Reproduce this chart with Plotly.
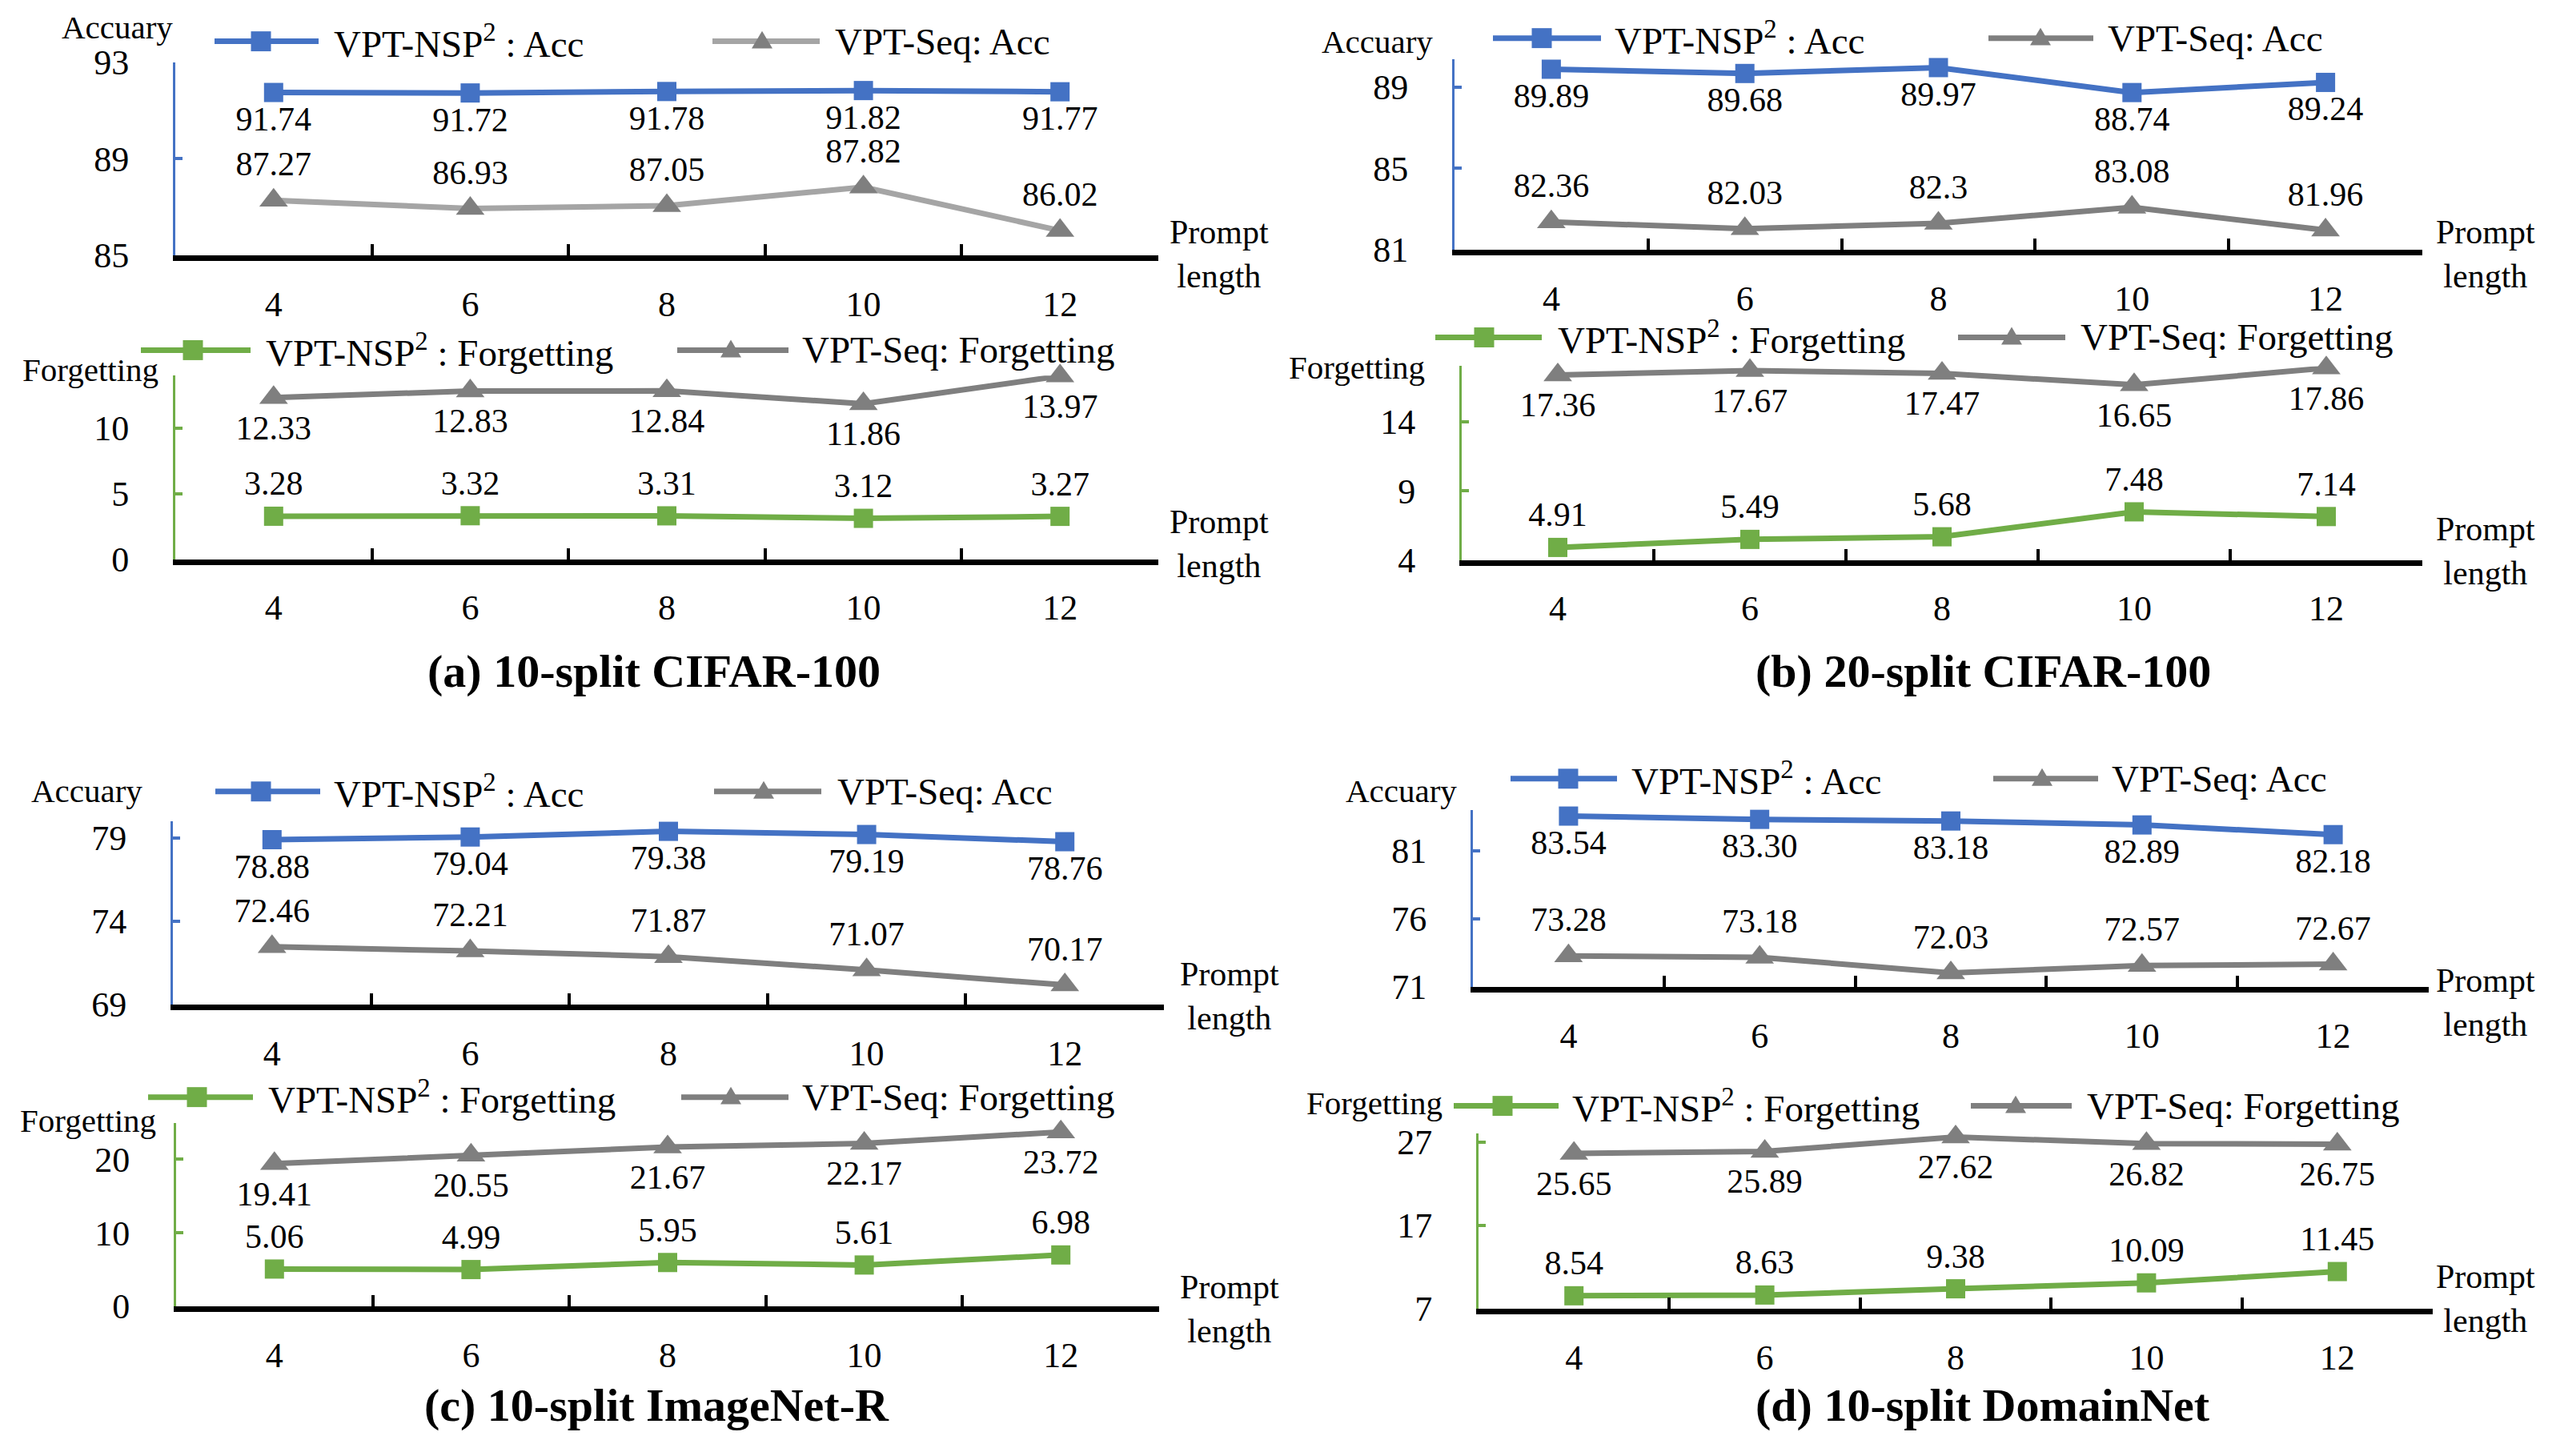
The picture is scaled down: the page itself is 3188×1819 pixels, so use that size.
import plotly.graph_objects as go

W, H = 3188, 1819
FONT = "Liberation Serif"
BLUE = "#4472C4"
GREEN = "#70AD47"
GRAY = "#7F7F7F"
LGRAY = "#A5A5A5"

# ---------------- data ----------------
prompt_lengths = ["4", "6", "8", "10", "12"]

a_acc_nsp = [91.74, 91.72, 91.78, 91.82, 91.77]
a_acc_seq = [87.27, 86.93, 87.05, 87.82, 86.02]
a_fgt_nsp = [3.28, 3.32, 3.31, 3.12, 3.27]
a_fgt_seq = [12.33, 12.83, 12.84, 11.86, 13.97]

b_acc_nsp = [89.89, 89.68, 89.97, 88.74, 89.24]
b_acc_seq = [82.36, 82.03, 82.3, 83.08, 81.96]
b_fgt_nsp = [4.91, 5.49, 5.68, 7.48, 7.14]
b_fgt_seq = [17.36, 17.67, 17.47, 16.65, 17.86]

c_acc_nsp = [78.88, 79.04, 79.38, 79.19, 78.76]
c_acc_seq = [72.46, 72.21, 71.87, 71.07, 70.17]
c_fgt_nsp = [5.06, 4.99, 5.95, 5.61, 6.98]
c_fgt_seq = [19.41, 20.55, 21.67, 22.17, 23.72]

d_acc_nsp = [83.54, 83.30, 83.18, 82.89, 82.18]
d_acc_seq = [73.28, 73.18, 72.03, 72.57, 72.67]
d_fgt_nsp = [8.54, 8.63, 9.38, 10.09, 11.45]
d_fgt_seq = [25.65, 25.89, 27.62, 26.82, 26.75]

acc_ticks = {"a": [85, 89, 93], "b": [81, 85, 89], "c": [69, 74, 79], "d": [71, 76, 81]}
fgt_ticks = {"a": [0, 5, 10], "b": [4, 9, 14], "c": [0, 10, 20], "d": [7, 17, 27]}
acc_ranges = {"a": [85, 93], "b": [81, 90.4], "c": [69, 80], "d": [71, 84]}
fgt_ranges = {"a": [0, 14], "b": [4, 18], "c": [0, 25], "d": [7, 28]}

captions = {"a": "(a) 10-split CIFAR-100", "b": "(b) 20-split CIFAR-100",
            "c": "(c) 10-split ImageNet-R", "d": "(d) 10-split DomainNet"}

# ---------------- layout geometry (target pixels) ----------------
subplots = [
    ("a", "acc", a_acc_nsp, a_acc_seq, 219, 1447, 79, 321, LGRAY, "{:.2f}"),
    ("a", "fgt", a_fgt_nsp, a_fgt_seq, 219, 1447, 472, 702, GRAY, "{:.2f}"),
    ("b", "acc", b_acc_nsp, b_acc_seq, 1817, 3026, 75, 314, GRAY, "{:g}"),
    ("b", "fgt", b_fgt_nsp, b_fgt_seq, 1826, 3026, 460, 703, GRAY, "{:.2f}"),
    ("c", "acc", c_acc_nsp, c_acc_seq, 216, 1454, 1030, 1260, GRAY, "{:.2f}"),
    ("c", "fgt", c_fgt_nsp, c_fgt_seq, 220, 1448, 1408, 1638, GRAY, "{:.2f}"),
    ("d", "acc", d_acc_nsp, d_acc_seq, 1840, 3034, 1016, 1238, GRAY, "{:.2f}"),
    ("d", "fgt", d_fgt_nsp, d_fgt_seq, 1847, 3039, 1422, 1641, GRAY, "{:.2f}"),
]

ytitle_pos = [(146, 35), (113, 465), (1720, 53), (1695, 462),
              (108, 992), (110, 1405), (1750, 992), (1717, 1383)]
plen_pos = [(1523, 320), (1523, 683), (3105, 320), (3105, 692),
            (1536, 1249), (1536, 1642), (3105, 1258), (3105, 1629)]
legend_geo = [
    (53, (268, 398, 326, 415), (890, 1024, 952, 1041)),
    (440, (176, 313, 241, 330), (846, 985, 913, 1000)),
    (49, (1865, 2000, 1926, 2015), (2484, 2615, 2549, 2631)),
    (424, (1793, 1926, 1854, 1944), (2446, 2580, 2513, 2597)),
    (993, (269, 400, 326, 415), (892, 1026, 954, 1044)),
    (1376, (185, 316, 246, 333), (851, 985, 913, 1000)),
    (977, (1887, 2020, 1959, 2036), (2490, 2621, 2551, 2636)),
    (1387, (1816, 1947, 1877, 1962), (2462, 2588, 2518, 2605)),
]
caption_pos = {"a": (817, 842), "b": (2477, 842), "c": (820, 1762), "d": (2477, 1762)}


def px(x):
    return x / W


def ty(y):
    # map a target picture row to the page row (the photographed page is
    # slightly squeezed vertically and offset)
    return (y - 25.3) / 0.976


def py(y):
    return 1 - ty(y) / H


fig = go.Figure()
layout = {}
annotations = []
shapes = []

for i, (pan, kind, nsp, seq, x0, x1, yt, yb, seq_col, seq_fmt) in enumerate(subplots, start=1):
    xr = "x" if i == 1 else f"x{i}"
    yr = "y" if i == 1 else f"y{i}"
    xa = "xaxis" if i == 1 else f"xaxis{i}"
    ya = "yaxis" if i == 1 else f"yaxis{i}"
    main_col = BLUE if kind == "acc" else GREEN
    rng = acc_ranges[pan] if kind == "acc" else fgt_ranges[pan]
    tv = acc_ticks[pan] if kind == "acc" else fgt_ticks[pan]

    layout[xa] = dict(domain=[px(x0), px(x1)], anchor=yr, type="category",
                      range=[-0.5, 4.5], showline=True, linecolor="black", linewidth=7,
                      ticks="inside", tickson="boundaries", ticklen=14, tickwidth=4,
                      tickcolor="black", showgrid=False, zeroline=False,
                      tickfont=dict(family=FONT, size=44, color="black"),
                      ticklabelstandoff=16, fixedrange=True)
    layout[ya] = dict(domain=[py(yb), py(yt)], anchor=xr, range=rng, tickvals=tv,
                      showline=True, linecolor=main_col, linewidth=3,
                      ticks="inside", ticklen=9, tickwidth=4, tickcolor=main_col,
                      showgrid=False, zeroline=False,
                      tickfont=dict(family=FONT, size=44, color="black"),
                      ticklabelstandoff=46, fixedrange=True)

    nsp_pos = "bottom center" if kind == "acc" else "top center"
    seq_pos = "top center" if kind == "acc" else "bottom center"

    fig.add_trace(go.Scatter(
        x=prompt_lengths, y=seq, mode="lines+markers+text",
        text=[seq_fmt.format(v) for v in seq], textposition=seq_pos,
        textfont=dict(family=FONT, size=42, color="black"),
        line=dict(color=seq_col, width=7),
        marker=dict(symbol="triangle-up", size=31, color=GRAY),
        cliponaxis=False, xaxis=xr, yaxis=yr, showlegend=False, hoverinfo="skip"))
    fig.add_trace(go.Scatter(
        x=prompt_lengths, y=nsp, mode="lines+markers+text",
        text=["{:.2f}".format(v) for v in nsp], textposition=nsp_pos,
        textfont=dict(family=FONT, size=42, color="black"),
        line=dict(color=main_col, width=7),
        marker=dict(symbol="square", size=24, color=main_col),
        cliponaxis=False, xaxis=xr, yaxis=yr, showlegend=False, hoverinfo="skip"))

    tx, tyy = ytitle_pos[i - 1]
    annotations.append(dict(x=px(tx), y=py(tyy), xref="paper", yref="paper",
                            text="Accuary" if kind == "acc" else "Forgetting",
                            showarrow=False, xanchor="center", yanchor="middle",
                            font=dict(family=FONT, size=41, color="black")))
    lx, ly = plen_pos[i - 1]
    annotations.append(dict(x=px(lx), y=py(ly), xref="paper", yref="paper",
                            text="Prompt<br>length", showarrow=False, align="center",
                            xanchor="center", yanchor="middle",
                            font=dict(family=FONT, size=42, color="black")))

    cy, it1, it2 = legend_geo[i - 1]
    suffix = "Acc" if kind == "acc" else "Forgetting"
    shapes.append(dict(type="line", xref="paper", yref="paper",
                       x0=px(it1[0]), x1=px(it1[1]), y0=py(cy), y1=py(cy),
                       line=dict(color=main_col, width=7)))
    s = 12.5
    shapes.append(dict(type="rect", xref="paper", yref="paper",
                       x0=px(it1[2] - s), x1=px(it1[2] + s),
                       y0=py(cy + s), y1=py(cy - s),
                       fillcolor=main_col, line=dict(width=0)))
    annotations.append(dict(x=px(it1[3]), y=py(cy), xref="paper", yref="paper",
                            text=f"VPT-NSP<sup>2</sup> : {suffix}", showarrow=False,
                            xanchor="left", yanchor="middle",
                            font=dict(family=FONT, size=47, color="black")))
    shapes.append(dict(type="line", xref="paper", yref="paper",
                       x0=px(it2[0]), x1=px(it2[1]), y0=py(cy), y1=py(cy),
                       line=dict(color=seq_col, width=7)))
    m = it2[2]
    path = (f"M {px(m - 13)} {py(cy + 9)} L {px(m + 13)} {py(cy + 9)} "
            f"L {px(m)} {py(cy - 13)} Z")
    shapes.append(dict(type="path", xref="paper", yref="paper", path=path,
                       fillcolor=GRAY, line=dict(width=0)))
    annotations.append(dict(x=px(it2[3]), y=py(cy), xref="paper", yref="paper",
                            text=f"VPT-Seq: {suffix}", showarrow=False,
                            xanchor="left", yanchor="middle",
                            font=dict(family=FONT, size=47, color="black")))

for pan, (cx, cy) in caption_pos.items():
    annotations.append(dict(x=px(cx), y=py(cy), xref="paper", yref="paper",
                            text=f"<b>{captions[pan]}</b>", showarrow=False,
                            xanchor="center", yanchor="middle",
                            font=dict(family=FONT, size=58, color="black")))

fig.update_layout(
    width=W, height=H, margin=dict(l=0, r=0, t=0, b=0, pad=0),
    paper_bgcolor="white", plot_bgcolor="white", showlegend=False,
    font=dict(family=FONT),
    annotations=annotations, shapes=shapes, **layout)

fig.write_html("out.html", config={"displayModeBar": False},
               post_script="document.body.style.margin='0';"
                           "document.body.style.overflow='hidden';")
